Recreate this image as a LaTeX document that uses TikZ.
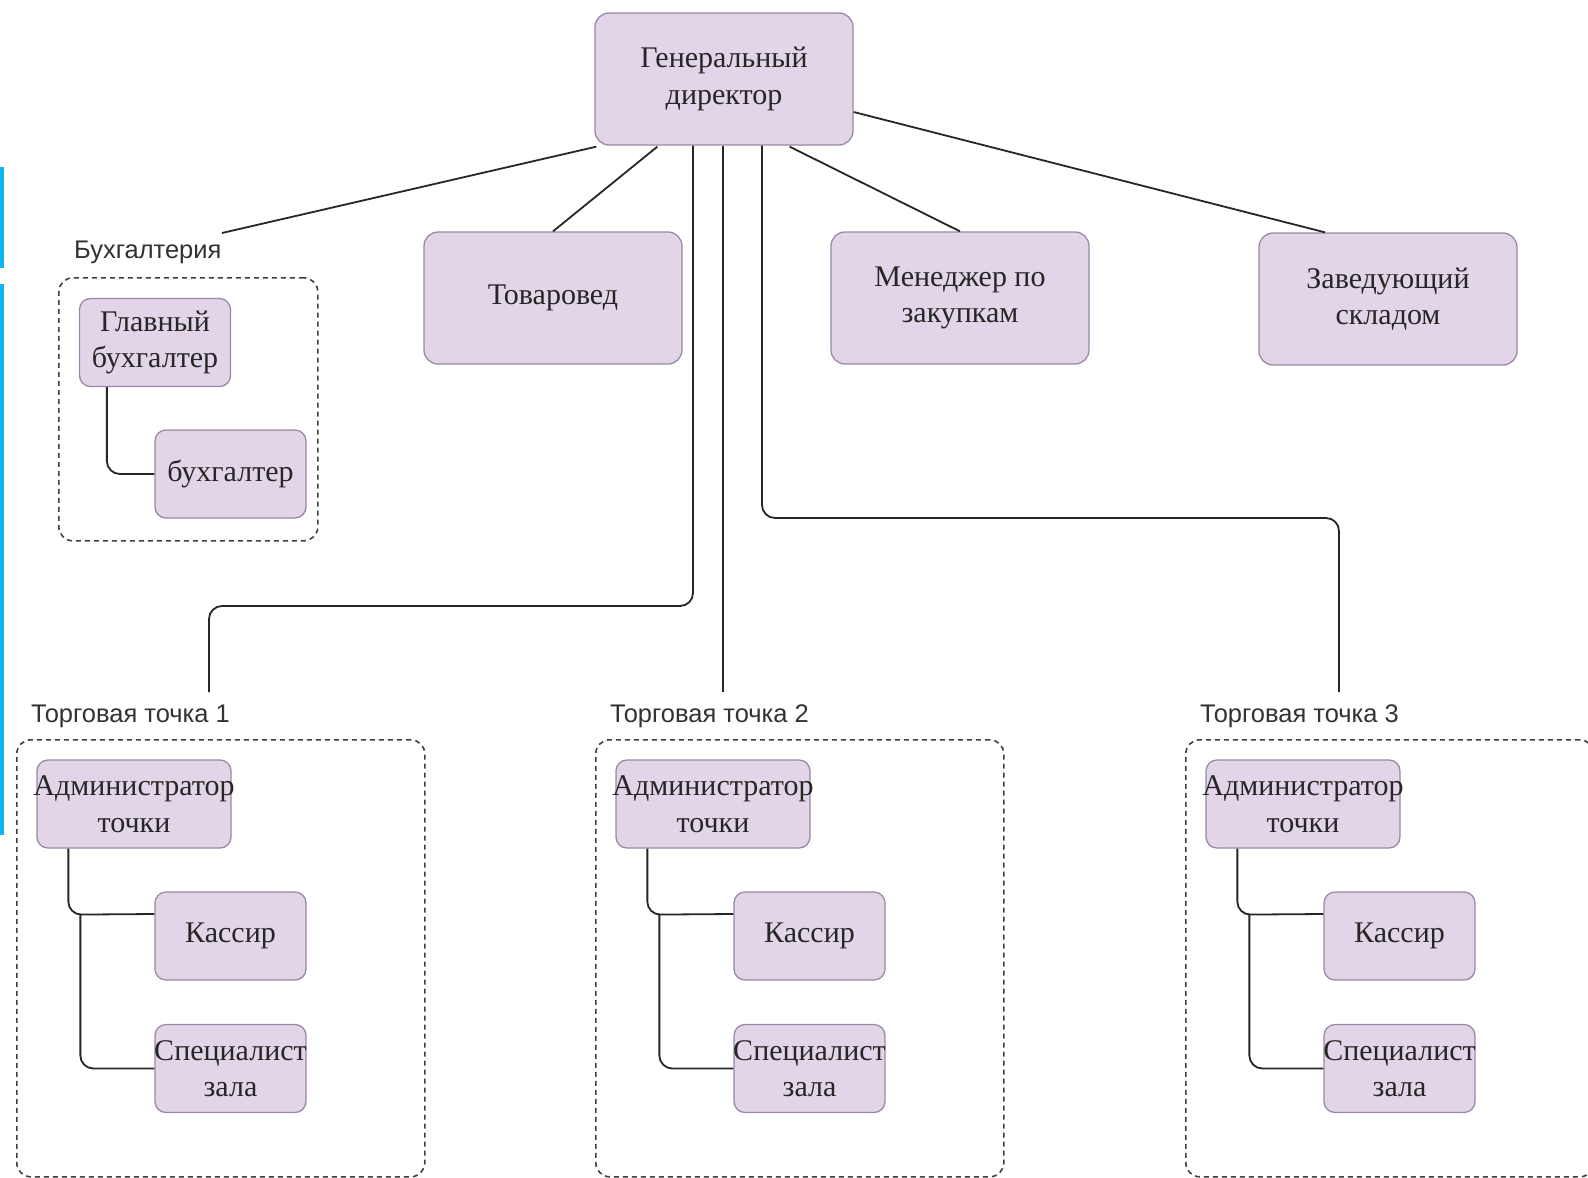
\documentclass[tikz,border=0pt]{standalone}
\usepackage{fontspec}
\setmainfont{Liberation Serif}
\newfontfamily\labfont{Liberation Sans}
\usetikzlibrary{calc}
\definecolor{boxfill}{HTML}{E1D5E7}
\definecolor{boxline}{HTML}{9C88A8}
\definecolor{cyanbar}{HTML}{12B4F2}
\begin{document}
\begin{tikzpicture}[x=1pt,y=-1pt,
  box/.style={draw=boxline, fill=boxfill, rounded corners=14, line width=1.3,
    align=center, font=\fontsize{30}{36.5}\selectfont, text=black!85, inner sep=0,
    minimum width=258, minimum height=132},
  small/.style={box, rounded corners=11, minimum width=151, minimum height=88},
  cont/.style={draw=black!75, dash pattern=on 5pt off 4pt, line width=1.6,
    rounded corners=14, anchor=north west, inner sep=0},
  conn/.style={draw=black!85, line width=1.8, rounded corners=13},
  lab/.style={font=\labfont\fontsize{25.5}{29}\selectfont, text=black!80,
    anchor=west, inner sep=0}]
\useasboundingbox (0,0) rectangle (1588,1178);
\fill[white] (0,0) rectangle (1588,1178);
% side bars
\fill[cyanbar] (0,167) rectangle (4,268);
\fill[cyanbar] (0,284) rectangle (4,835);

% top level
\node[box] (gd) at (724,79) {Генеральный\\директор};
\node[box] (tov) at (553,298) {Товаровед};
\node[box] (men) at (960,298) {Менеджер по\\закупкам};
\node[box] (zav) at (1388,299) {Заведующий\\складом};

% accounting
\node[lab] (buhl) at (74,252) {Бухгалтерия};
\node[cont, minimum width=259, minimum height=263] (buhc) at (58,277) {};
\node[small] (gb) at (155,342.5) {Главный\\бухгалтер};
\node[small] (bh) at (230.5,474) {бухгалтер};
\draw[conn] ($(gb.south west)+(28,0)$) |- (bh.west);

% shops
\foreach \i/\L in {1/16, 2/595, 3/1185}{
  \node[lab] (tl\i) at (\L+15,716) {Торговая точка \i};
  \node[cont, minimum width=408, minimum height=437] (tc\i) at (\L,739) {};
  \node[small, minimum width=194, text width=150] (ad\i) at (\L+118,804)
    {\makebox[150pt][c]{Администратор}\\точки};
  \node[small] (ks\i) at (\L+214.5,936) {Кассир};
  \node[small, text width=120] (sp\i) at (\L+214.5,1068.5)
    {\makebox[120pt][c]{Специалист}\\зала};
  \draw[conn] ($(ad\i.south west)+(32,0)$) -- ($(ad\i.south west)+(32,66)$) -- ($(ks\i.west)+(0,-22)$);
  \draw[conn] ($(ad\i.south west)+(44,66)$) |- (sp\i.west);
}

% connectors from director
\coordinate (e1) at (209,692);
\coordinate (e2) at (723,692);
\coordinate (e3) at (1339,692);
\coordinate (eb) at (222,233);
\draw[conn] ($(gd.south west)+(2,1)$) -- (eb);
\draw[conn] ($(gd.south west)+(63,1)$) -- (tov.north);
\draw[conn] ($(gd.south)+(-31,0)$) |- (e1 |- 0,606) -- (e1);
\draw[conn] ($(gd.south)+(-1,0)$) -- (e2);
\draw[conn] ($(gd.south)+(38,0)$) |- (e3 |- 0,518) -- (e3);
\draw[conn] ($(gd.south east)+(-64,1)$) -- (men.north);
\draw[conn] ($(gd.east)+(0,33)$) -- ($(zav.north)+(-63,0)$);
\end{tikzpicture}
\end{document}
